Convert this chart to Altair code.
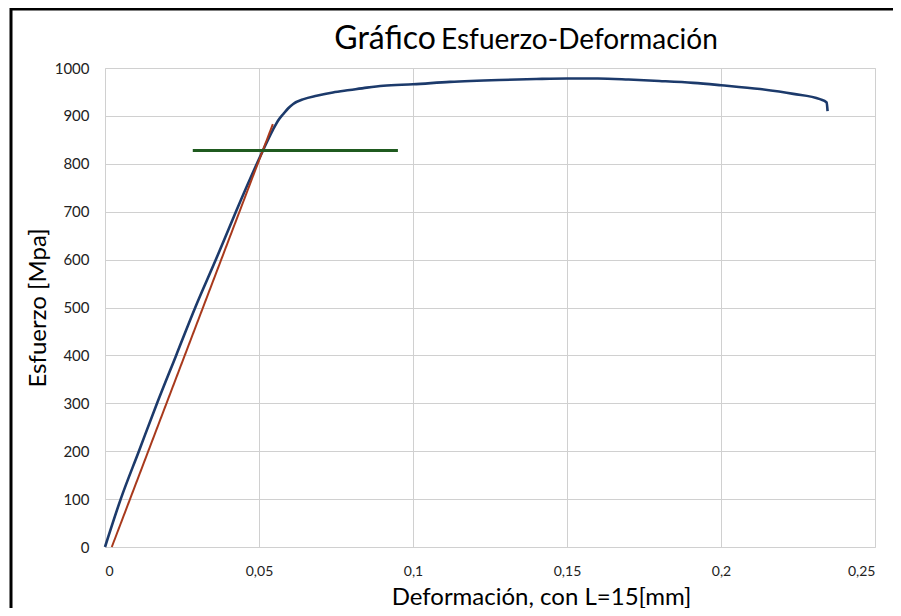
import altair as alt
import pandas as pd

# Stress-strain curve (blue)
blue_x = [0, 0.0051, 0.0110, 0.0169, 0.0231, 0.0293, 0.0360, 0.0425, 0.0493, 0.0513,
          0.0546, 0.0565, 0.0579, 0.0595, 0.0611, 0.0645, 0.0687, 0.0740, 0.0795, 0.0850,
          0.0904, 0.1000, 0.1120, 0.1280, 0.1400, 0.1500, 0.1600, 0.1700, 0.1800, 0.1910,
          0.2000, 0.2127, 0.2235, 0.2321, 0.2343, 0.2346]
blue_y = [0, 100, 200, 300, 400, 500, 600, 700, 800, 828,
          872, 893, 904, 916, 925, 935, 942, 949, 954, 959,
          963, 966, 971, 975, 977, 978, 978, 976, 973, 969,
          964, 956, 946, 935, 928, 910]

# Offset elastic line (red)
red_x = [0.0022, 0.0545]
red_y = [0, 883]

# Yield level (green)
green_x = [0.0285, 0.0951]
green_y = [828, 828]

x_ticks = [0, 0.05, 0.1, 0.15, 0.2, 0.25]
y_ticks = [0, 100, 200, 300, 400, 500, 600, 700, 800, 900, 1000]

FONT = "Lato"
W, H = 770, 479

xs = alt.Scale(domain=[0, 0.25], nice=False)
ys = alt.Scale(domain=[0, 1000], nice=False)

x_axis = alt.Axis(values=x_ticks, format="~g", labelExpr="replace(datum.label, '.', ',')",
                  title="Deformación, con L=15[mm]", titleFontSize=24, titleFont=FONT,
                  titleFontWeight="normal", titleColor="#000000",
                  titleX=436, titleY=57, titleBaseline="alphabetic", titleAlign="center",
                  labelFontSize=14, labelFont=FONT, labelColor="#222222", labelPadding=17,
                  ticks=False, domain=False, grid=True, gridColor="#d0d0d0")
y_axis = alt.Axis(values=y_ticks, format="d",
                  title="Esfuerzo [Mpa]", titleFontSize=24, titleFont=FONT,
                  titleFontWeight="normal", titleColor="#000000",
                  titleX=-67, titleY=H / 2, titleAngle=-90, titleBaseline="middle",
                  titleAlign="center",
                  labelFontSize=15, labelFont=FONT, labelColor="#222222", labelPadding=16,
                  ticks=False, domain=False, grid=True, gridColor="#d0d0d0")

blue_df = pd.DataFrame({"x": blue_x, "y": blue_y})
red_df = pd.DataFrame({"x": red_x, "y": red_y})
green_df = pd.DataFrame({"x": green_x, "y": green_y})

blue = alt.Chart(blue_df).mark_line(color="#1c3a6b", strokeWidth=2.6, interpolate="monotone").encode(
    x=alt.X("x:Q", scale=xs, axis=x_axis),
    y=alt.Y("y:Q", scale=ys, axis=y_axis),
)
red = alt.Chart(red_df).mark_line(color="#a8391c", strokeWidth=2).encode(
    x=alt.X("x:Q", scale=xs), y=alt.Y("y:Q", scale=ys))
green = alt.Chart(green_df).mark_line(color="#1f5a1f", strokeWidth=3).encode(
    x=alt.X("x:Q", scale=xs), y=alt.Y("y:Q", scale=ys))

one = pd.DataFrame({"a": [0]})
t1 = alt.Chart(one).mark_text(text="Gráfico", font=FONT, fontSize=32, align="right",
                              baseline="alphabetic", color="#000000").encode(
    x=alt.value(331), y=alt.value(-19))
t2 = alt.Chart(one).mark_text(text="Esfuerzo-Deformación", font=FONT, fontSize=28, align="left",
                              baseline="alphabetic", color="#000000").encode(
    x=alt.value(336), y=alt.value(-19))
frame = alt.Chart(one).mark_rect(fillOpacity=0, stroke="#000000", strokeWidth=3).encode(
    x=alt.value(-94), x2=alt.value(805), y=alt.value(-59), y2=alt.value(545))

chart = alt.layer(blue, red, green, t1, t2, frame).properties(
    width=W, height=H,
    autosize=alt.AutoSizeParams(type="none"),
    padding={"left": 97, "top": 60, "right": 18, "bottom": 61},
).configure_view(stroke=None).configure(background="white")

chart.save("out.html", embed_options={"renderer": "svg", "actions": False})
